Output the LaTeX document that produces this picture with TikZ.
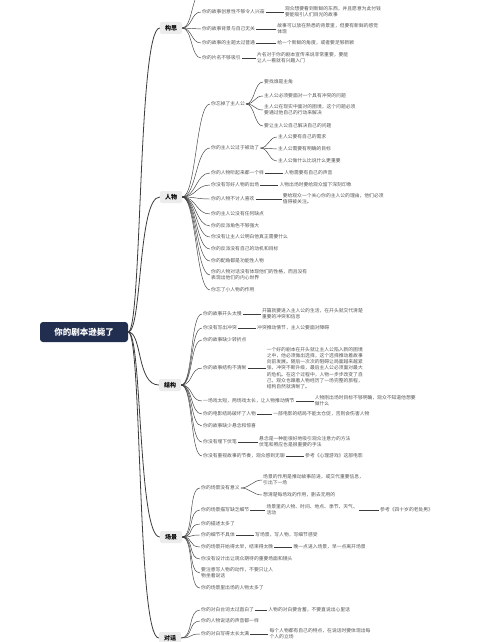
\documentclass[tikz,border=0pt]{standalone}
\usepackage{fontspec}
\setmainfont{Noto Sans CJK SC}
\usepackage{xcolor}
\usetikzlibrary{positioning}

\definecolor{bookblue}{HTML}{222E50}
\definecolor{chapgray}{HTML}{ECECEC}
\definecolor{tipgray}{HTML}{555555}
\definecolor{wiregray}{HTML}{3C3C3C}

\begin{document}
\begin{tikzpicture}[
	x=1pt, y=-1pt,
	node distance=18pt,
	book/.style={
		rectangle,
		rounded corners=3pt,
		fill=bookblue,
		text=white,
		font=\bfseries\fontsize{8.5}{10}\selectfont,
		minimum width=88pt,
		minimum height=20pt
	},
	chapter/.style={
		rectangle,
		rounded corners=2pt,
		fill=chapgray,
		font=\bfseries\fontsize{6}{7}\selectfont,
		minimum width=22pt,
		minimum height=12pt,
		inner sep=1pt
	},
	tip/.style={
		font=\fontsize{4.8}{6.2}\selectfont,
		text=tipgray,
		inner sep=1pt,
		align=left
	},
	item/.style={tip, anchor=west},
	wire/.style={draw=wiregray, line width=0.45pt},
	trunk/.style={draw=wiregray, line width=0.8pt}
	]
	
	\fill[white] (0,0) rectangle (500,642);
	\useasboundingbox (0,0) rectangle (500,642);
	
	% centre and chapters
	\node[book] (book) at (84,332) {你的剧本逊毙了};
	\node[chapter] (idea) at (171,28) {构思};
	\node[chapter] (role) at (171,197) {人物};
	\node[chapter] (plot) at (170,385) {结构};
	\node[chapter] (scene) at (171,537) {场景};
	\node[chapter] (talk) at (170,638) {对话};
	
	\draw[trunk] (book.east) .. controls +(14,0) and +(-22,0) .. (idea.west);
	\draw[trunk] (book.east) .. controls +(14,0) and +(-22,0) .. (role.west);
	\draw[trunk] (book.east) .. controls +(14,0) and +(-22,0) .. (plot.west);
	\draw[trunk] (book.east) .. controls +(14,0) and +(-22,0) .. (scene.west);
	\draw[trunk] (book.east) .. controls +(14,0) and +(-22,0) .. (talk.west);
	
	% 构思
	\coordinate (idea0) at (200,-6);
	\node[item] (idea1) at (201,12) {你的故事创意性不够令人兴奋};
	\node[tip] (idea1n) [right=18pt of idea1] {观众想要看到新鲜的东西，并且愿意为此付钱\\要能吸引人们目光的故事};
	\node[item] (idea2) at (201,29) {你的故事背景与自己无关};
	\node[tip] (idea2n) [right=20pt of idea2] {故事可以放在熟悉的背景里，但要有新鲜的感觉\\体现};
	\node[item] (idea3) at (201,43) {你的故事的主题太过普通};
	\node[tip] (idea3n) [right=20pt of idea3] {给一个新鲜的角度，或者要足够新颖};
	\node[item] (idea4) at (201,58) {你的片名不够吸引};
	\node[tip] (idea4n) [right=14pt of idea4] {片名对于你的剧本宣传来说非常重要，要能\\让人一看就有兴趣入门};
	
	\draw[wire] (idea.east) .. controls +(10,0) and +(-8,0) .. (idea0);
	\draw[wire] (idea.east) .. controls +(10,0) and +(-10,0) .. (idea1.west);
	\draw[wire] (idea.east) .. controls +(10,0) and +(-10,0) .. (idea2.west);
	\draw[wire] (idea.east) .. controls +(10,0) and +(-10,0) .. (idea3.west);
	\draw[wire] (idea.east) .. controls +(10,0) and +(-10,0) .. (idea4.west);
	\draw[wire] (idea1) -- (idea1n);
	\draw[wire] (idea2) -- (idea2n);
	\draw[wire] (idea3) -- (idea3n);
	\draw[wire] (idea4) -- (idea4n);
	
	% 人物
	\node[item] (role1) at (210,104) {你忘掉了主人公};
	\node[item] (role1a) at (263,82) {要找谁是主角};
	\node[item] (role1b) at (263,96) {主人公必须要面对一个具有冲突的问题};
	\node[item] (role1c) at (263,110) {主人公在现实中面对的困境，这个问题必须\\要通过他自己的行动来解决};
	\node[item] (role1d) at (263,126) {要让主人公自己解决自己的问题};
	\node[item] (role2) at (210,148) {你的主人公过于被动了};
	\node[item] (role2a) at (277,137) {主人公要有自己的需求};
	\node[item] (role2b) at (277,149) {主人公需要有明确的目标};
	\node[item] (role2c) at (277,161) {主人公做什么比说什么更重要};
	\node[item] (role3) at (210,173) {你的人物听起来都一个样};
	\node[tip] (role3n) [right=18pt of role3] {人物需要有自己的声音};
	\node[item] (role4) at (210,185) {你没有写好人物的出场};
	\node[tip] (role4n) [right=18pt of role4] {人物出场时要给观众留下深刻印象};
	\node[item] (role5) at (210,199) {你的人物不讨人喜欢};
	\node[tip] (role5n) [right=26pt of role5] {要给观众一个关心你的主人公的理由，他们必须\\值得被关注。};
	\node[item] (role6) at (210,214) {你的主人公没有任何缺点};
	\node[item] (role7) at (210,226) {你的反派角色不够强大};
	\node[item] (role8) at (210,237) {你没有让主人公明白他真正需要什么};
	\node[item] (role9) at (210,249) {你的反派没有自己的动机和目标};
	\node[item] (role10) at (210,261) {你的配角都是功能性人物};
	\node[item] (role11) at (210,275) {你的人物对话没有体现他们的性格，而且没有\\表现出他们的内心世界};
	\node[item] (role12) at (210,290) {你忘了小人物的作用};
	
	\draw[wire] (role.east) .. controls +(14,0) and +(-14,0) .. (role1.west);
	\draw[wire] (role.east) .. controls +(14,0) and +(-14,0) .. (role2.west);
	\draw[wire] (role.east) .. controls +(14,0) and +(-14,0) .. (role3.west);
	\draw[wire] (role.east) .. controls +(14,0) and +(-14,0) .. (role4.west);
	\draw[wire] (role.east) .. controls +(14,0) and +(-14,0) .. (role5.west);
	\draw[wire] (role.east) .. controls +(14,0) and +(-14,0) .. (role6.west);
	\draw[wire] (role.east) .. controls +(14,0) and +(-14,0) .. (role7.west);
	\draw[wire] (role.east) .. controls +(14,0) and +(-14,0) .. (role8.west);
	\draw[wire] (role.east) .. controls +(14,0) and +(-14,0) .. (role9.west);
	\draw[wire] (role.east) .. controls +(14,0) and +(-14,0) .. (role10.west);
	\draw[wire] (role.east) .. controls +(14,0) and +(-14,0) .. (role11.west);
	\draw[wire] (role.east) .. controls +(14,0) and +(-14,0) .. (role12.west);
	\draw[wire] (role1.east) .. controls +(9,0) and +(-9,0) .. (role1a.west);
	\draw[wire] (role1.east) .. controls +(9,0) and +(-9,0) .. (role1b.west);
	\draw[wire] (role1.east) .. controls +(9,0) and +(-9,0) .. (role1c.west);
	\draw[wire] (role1.east) .. controls +(9,0) and +(-9,0) .. (role1d.west);
	\draw[wire] (role2.east) .. controls +(8,0) and +(-8,0) .. (role2a.west);
	\draw[wire] (role2.east) .. controls +(8,0) and +(-8,0) .. (role2b.west);
	\draw[wire] (role2.east) .. controls +(8,0) and +(-8,0) .. (role2c.west);
	\draw[wire] (role3) -- (role3n);
	\draw[wire] (role4) -- (role4n);
	\draw[wire] (role5) -- (role5n);
	
	% 结构
	\node[item] (plot1) at (202,314) {你的故事开头太慢};
	\node[tip] (plot1n) [right=18pt of plot1] {开篇就要进入主人公的生活，在开头就交代清楚\\重要的冲突和信息};
	\node[item] (plot2) at (202,328) {你没有写出冲突};
	\node[tip] (plot2n) [right=18pt of plot2] {冲突推动情节，主人公要面对障碍};
	\node[item] (plot3) at (202,340) {你的故事缺少转折点};
	\node[item] (plot4) at (202,368) {你的故事结构不清晰};
	\node[tip] (plot4n) [right=18pt of plot4] {一个好的剧本在开头就让主人公陷入新的困境\\之中，他必须做出选择，这个选择推动着故事\\向前发展。随后一次次的阻碍让局面越来越紧\\张，冲突不断升级，最后主人公必须面对最大\\的危机。在这个过程中，人物一步步改变了自\\己，观众也跟着人物经历了一场完整的旅程，\\结构自然就清晰了。};
	\node[item] (plot5) at (202,401) {一场戏太短，两场戏太长，让人物推动情节};
	\node[tip] (plot5n) [right=18pt of plot5] {人物刚出场时目标不够明确，观众不知道他想要\\做什么};
	\node[item] (plot6) at (202,414) {你的电影结局破坏了人物};
	\node[tip] (plot6n) [right=15pt of plot6] {一部电影的结局不能太仓促，否则会伤害人物};
	\node[item] (plot7) at (202,426) {你的故事缺少悬念和惊喜};
	\node[item] (plot8) at (202,442) {你没有埋下伏笔};
	\node[tip] (plot8n) [right=20pt of plot8] {悬念是一种能很好地吸引观众注意力的方法\\伏笔和照应也是很重要的手法};
	\node[item] (plot9) at (202,456) {你没有重视故事的节奏，观众感到无聊};
	\node[tip] (plot9n) [right=18pt of plot9] {参考《心理游戏》这部电影};
	
	\draw[wire] (plot.east) .. controls +(12,0) and +(-12,0) .. (plot1.west);
	\draw[wire] (plot.east) .. controls +(12,0) and +(-12,0) .. (plot2.west);
	\draw[wire] (plot.east) .. controls +(12,0) and +(-12,0) .. (plot3.west);
	\draw[wire] (plot.east) .. controls +(12,0) and +(-12,0) .. (plot4.west);
	\draw[wire] (plot.east) .. controls +(12,0) and +(-12,0) .. (plot5.west);
	\draw[wire] (plot.east) .. controls +(12,0) and +(-12,0) .. (plot6.west);
	\draw[wire] (plot.east) .. controls +(12,0) and +(-12,0) .. (plot7.west);
	\draw[wire] (plot.east) .. controls +(12,0) and +(-12,0) .. (plot8.west);
	\draw[wire] (plot.east) .. controls +(12,0) and +(-12,0) .. (plot9.west);
	\draw[wire] (plot1) -- (plot1n);
	\draw[wire] (plot2) -- (plot2n);
	\draw[wire] (plot4) -- (plot4n);
	\draw[wire] (plot5) -- (plot5n);
	\draw[wire] (plot6) -- (plot6n);
	\draw[wire] (plot8) -- (plot8n);
	\draw[wire] (plot9) -- (plot9n);
	
	% 场景
	\node[item] (scene1) at (200,488) {你的场景没有意义};
	\node[item] (scene1a) at (262,480) {场景的作用是推动故事前进，或交代重要信息，\\引出下一场};
	\node[item] (scene1b) at (262,495) {想清楚每场戏的作用，删去无用的};
	\node[item] (scene2) at (200,510) {你的场景描写缺乏细节};
	\node[tip] (scene2n) [right=15pt of scene2] {场景里的人物、时间、地点、季节、天气、\\活动};
	\node[tip] (scene2m) [right=20pt of scene2n] {参考《四十岁的老处男》};
	\node[item] (scene3) at (200,524) {你的描述太多了};
	\node[item] (scene4) at (200,535) {你的细节不具体};
	\node[tip] (scene4n) [right=18pt of scene4] {写场景，写人物，写细节感受};
	\node[item] (scene5) at (200,547) {你的场景开始得太早，结束得太晚};
	\node[tip] (scene5n) [right=18pt of scene5] {晚一点进入场景，早一点离开场景};
	\node[item] (scene6) at (200,559) {你没有设计出让观众期待的重要场面和镜头};
	\node[item] (scene7) at (200,573) {要注意写人物的动作，不要只让人\\物坐着说话};
	\node[item] (scene8) at (200,588) {你的场景里出场的人物太多了};
	
	\draw[wire] (scene.east) .. controls +(12,0) and +(-12,0) .. (scene1.west);
	\draw[wire] (scene.east) .. controls +(12,0) and +(-12,0) .. (scene2.west);
	\draw[wire] (scene.east) .. controls +(12,0) and +(-12,0) .. (scene3.west);
	\draw[wire] (scene.east) .. controls +(12,0) and +(-12,0) .. (scene4.west);
	\draw[wire] (scene.east) .. controls +(12,0) and +(-12,0) .. (scene5.west);
	\draw[wire] (scene.east) .. controls +(12,0) and +(-12,0) .. (scene6.west);
	\draw[wire] (scene.east) .. controls +(12,0) and +(-12,0) .. (scene7.west);
	\draw[wire] (scene.east) .. controls +(12,0) and +(-12,0) .. (scene8.west);
	\draw[wire] (scene1.east) .. controls +(9,0) and +(-9,0) .. (scene1a.west);
	\draw[wire] (scene1.east) .. controls +(9,0) and +(-9,0) .. (scene1b.west);
	\draw[wire] (scene2) -- (scene2n);
	\draw[wire] (scene2n) -- (scene2m);
	\draw[wire] (scene4) -- (scene4n);
	\draw[wire] (scene5) -- (scene5n);
	
	% 对话
	\node[item] (talk1) at (200,610) {你的对白台词太过直白了};
	\node[tip] (talk1n) [right=12pt of talk1] {人物的对白要含蓄，不要直说出心里话};
	\node[item] (talk2) at (200,621) {你的人物说话的声音都一样};
	\node[item] (talk3) at (200,634) {你的对白写得太长太满};
	\node[tip] (talk3n) [right=18pt of talk3] {每个人物都有自己的特点，在说话时要体现出每\\个人的立场};
	
	\draw[wire] (talk.east) .. controls +(12,0) and +(-12,0) .. (talk1.west);
	\draw[wire] (talk.east) .. controls +(12,0) and +(-12,0) .. (talk2.west);
	\draw[wire] (talk.east) .. controls +(12,0) and +(-12,0) .. (talk3.west);
	\draw[wire] (talk1) -- (talk1n);
	\draw[wire] (talk3) -- (talk3n);
	
\end{tikzpicture}
\end{document}
